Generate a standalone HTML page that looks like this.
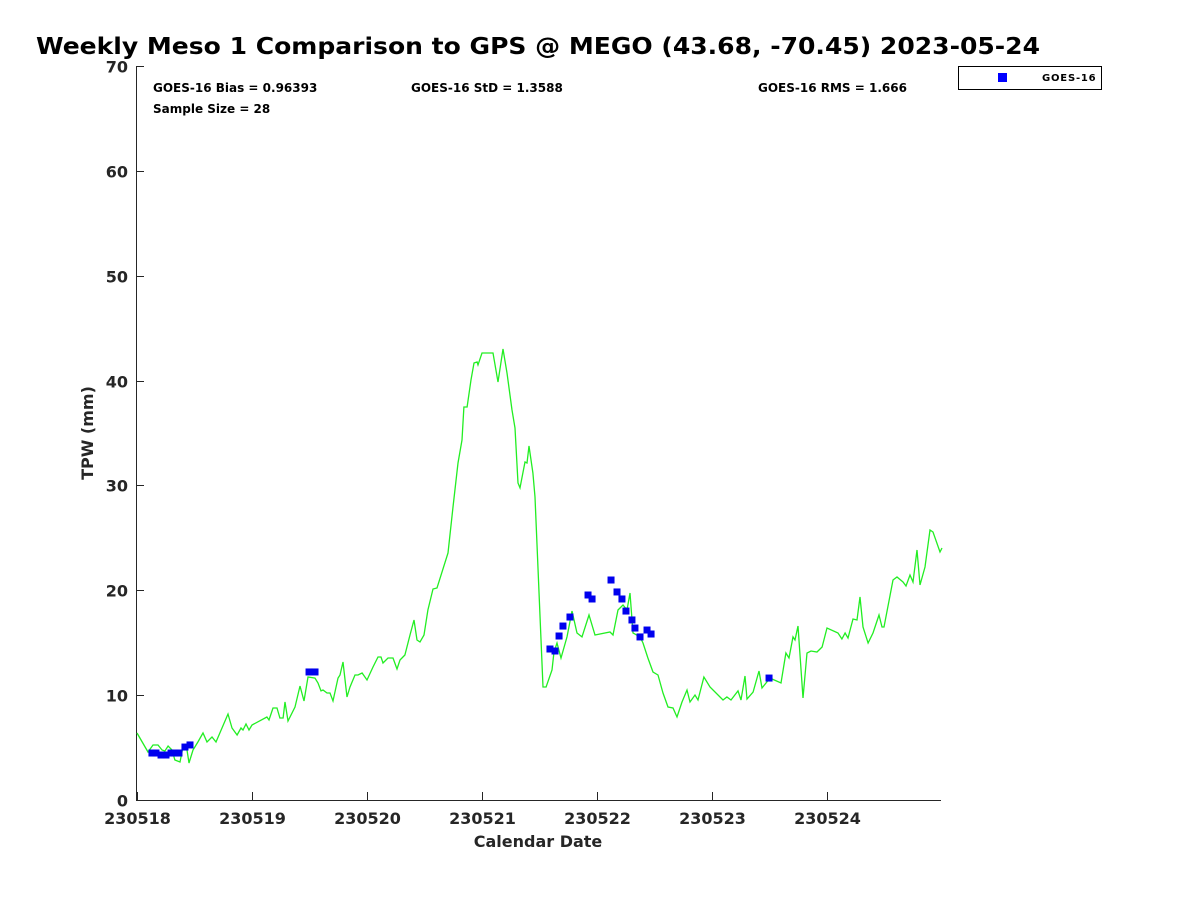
<!DOCTYPE html>
<html><head><meta charset="utf-8"><style>
body{margin:0;background:#fff;}
svg{display:block;font-family:"DejaVu Sans","Liberation Sans",sans-serif;}
</style></head><body>
<svg id="chart" width="1200" height="900">
<text x="36" y="54" font-size="23" font-weight="bold" fill="#000" textLength="1004" lengthAdjust="spacingAndGlyphs">Weekly Meso 1 Comparison to GPS @ MEGO (43.68, -70.45) 2023-05-24</text>
<text x="153" y="92" font-size="12" font-weight="bold">GOES-16 Bias = 0.96393</text>
<text x="411" y="92" font-size="12" font-weight="bold">GOES-16 StD = 1.3588</text>
<text x="758" y="92" font-size="12" font-weight="bold">GOES-16 RMS = 1.666</text>
<text x="153" y="113" font-size="12" font-weight="bold">Sample Size = 28</text>
<text x="93" y="433" font-size="16" font-weight="bold" fill="#262626" text-anchor="middle" transform="rotate(-90 93 433)">TPW (mm)</text>
<text x="538" y="847" font-size="16" font-weight="bold" fill="#262626" text-anchor="middle">Calendar Date</text>
<g>
<rect x="958.5" y="66.5" width="143" height="23" fill="#fff" stroke="#000"/>
<rect x="998" y="73" width="9" height="9" fill="#0000ff"/>
<text x="1042" y="81" font-size="10" font-weight="bold" letter-spacing="0.8">GOES-16</text>
</g>
<g id="axes"></g>
<g id="plot"></g>
</svg>
<script>
const xTickLabels=["230518","230519","230520","230521","230522","230523","230524"];
const yTickLabels=[0,10,20,30,40,50,60,70];
const gpsDays=[0,0.096,0.139,0.183,0.217,0.243,0.27,0.304,0.33,0.374,0.4,0.435,0.452,0.487,0.53,0.574,0.609,0.652,0.687,0.739,0.791,0.826,0.87,0.904,0.922,0.948,0.974,1.0,1.13,1.148,1.183,1.217,1.243,1.27,1.287,1.313,1.374,1.417,1.452,1.487,1.548,1.574,1.6,1.617,1.652,1.678,1.704,1.748,1.765,1.791,1.826,1.852,1.896,1.922,1.957,2.0,2.052,2.096,2.122,2.139,2.183,2.226,2.261,2.287,2.33,2.374,2.409,2.435,2.461,2.496,2.53,2.574,2.609,2.704,2.748,2.791,2.826,2.843,2.87,2.904,2.93,2.957,2.965,3.0,3.096,3.139,3.183,3.217,3.261,3.287,3.313,3.33,3.374,3.391,3.409,3.443,3.461,3.53,3.557,3.609,3.626,3.652,3.687,3.739,3.783,3.826,3.87,3.93,3.983,4.113,4.139,4.183,4.226,4.261,4.287,4.313,4.374,4.4,4.443,4.487,4.53,4.574,4.617,4.661,4.696,4.739,4.783,4.809,4.852,4.878,4.93,4.983,5.096,5.13,5.165,5.226,5.252,5.287,5.304,5.357,5.409,5.435,5.504,5.6,5.643,5.67,5.704,5.722,5.748,5.791,5.826,5.861,5.913,5.957,6.0,6.096,6.13,6.157,6.183,6.226,6.261,6.287,6.313,6.357,6.4,6.452,6.478,6.496,6.574,6.609,6.661,6.687,6.722,6.748,6.783,6.809,6.852,6.896,6.922,6.983,7.0];
const gpsTPW=[6.39,4.58,5.25,5.25,4.77,4.67,5.15,4.77,3.81,3.62,5.05,4.77,3.53,4.77,5.53,6.39,5.53,6.01,5.53,6.87,8.2,6.87,6.2,6.87,6.68,7.25,6.68,7.15,7.92,7.63,8.77,8.77,7.82,7.82,9.35,7.53,8.87,10.87,9.44,11.73,11.63,11.16,10.4,10.49,10.2,10.2,9.44,11.63,11.92,13.16,9.82,10.78,11.92,11.92,12.11,11.44,12.68,13.64,13.64,13.07,13.54,13.54,12.49,13.35,13.83,15.74,17.17,15.26,15.07,15.74,18.12,20.12,20.22,23.56,27.94,32.14,34.33,37.48,37.48,40.06,41.68,41.77,41.49,42.63,42.63,39.86,43.01,40.72,37.19,35.48,30.23,29.76,32.23,32.14,33.76,31.19,28.9,10.78,10.78,12.4,14.11,14.97,13.54,15.55,18.02,15.93,15.55,17.64,15.74,16.02,15.74,18.12,18.6,18.12,19.74,15.93,15.55,14.97,13.54,12.21,11.92,10.2,8.87,8.77,7.92,9.35,10.49,9.35,10.01,9.54,11.73,10.78,9.54,9.82,9.54,10.4,9.54,11.83,9.63,10.3,12.3,10.68,11.63,11.16,14.02,13.54,15.55,15.26,16.59,9.73,14.02,14.21,14.11,14.59,16.4,15.93,15.35,15.93,15.45,17.26,17.17,19.36,16.5,14.97,15.93,17.64,16.5,16.5,20.98,21.27,20.79,20.41,21.46,20.79,23.84,20.5,22.22,25.75,25.56,23.65,24.03];
const goesDays=[0.13,0.165,0.209,0.252,0.296,0.33,0.365,0.417,0.461,1.496,1.548,3.591,3.635,3.67,3.704,3.765,3.922,3.957,4.122,4.174,4.217,4.252,4.304,4.33,4.374,4.435,4.47,5.496];
const goesTPW=[4.48,4.48,4.29,4.29,4.48,4.48,4.48,5.05,5.25,12.21,12.21,14.4,14.21,15.64,16.59,17.45,19.55,19.17,20.98,19.84,19.17,18.02,17.17,16.4,15.55,16.21,15.83,11.63];

const NS='http://www.w3.org/2000/svg';
const X0=137,DAYW=115,Y0=800,YTOP=66,YMAX=70;
const xs=d=>X0+d*DAYW;
const ys=v=>Y0-v*(Y0-YTOP)/YMAX;
function mk(tag,attrs,parent){const e=document.createElementNS(NS,tag);for(const k in attrs)e.setAttribute(k,attrs[k]);parent.appendChild(e);return e;}
const axes=document.getElementById('axes'),plot=document.getElementById('plot');
let a=mk('line',{x1:136.5,y1:YTOP,x2:136.5,y2:800.5,stroke:'#262626'},axes);


a=mk('line',{x1:136,y1:800.5,x2:941,y2:800.5,stroke:'#262626'},axes);


yTickLabels.forEach(v=>{
  const y=Math.round(ys(v))+0.5;
  const t=mk('line',{x1:136,y1:y,x2:144,y2:y,stroke:'#262626'},axes);
  
  
  const l=mk('text',{x:128,y:y+6,'font-size':16,'font-weight':'bold',fill:'#262626','text-anchor':'end'},axes);
  l.textContent=v;
  
  
});
xTickLabels.forEach((s,i)=>{
  const x=Math.round(xs(i))+0.5;
  const t=mk('line',{x1:x,y1:792,x2:x,y2:800,stroke:'#262626'},axes);
  
  
  const l=mk('text',{x:x,y:824,'font-size':16,'font-weight':'bold',fill:'#262626','text-anchor':'middle'},axes);
  l.textContent=s;
  
  
});
const pts=gpsDays.map((d,i)=>xs(d).toFixed(1)+','+ys(gpsTPW[i]).toFixed(1)).join(' ');
const pl=mk('polyline',{points:pts,fill:'none',stroke:'#22ee22','stroke-width':1.3},plot);


goesDays.forEach((d,i)=>{
  const r=mk('rect',{x:xs(d)-3.5,y:ys(goesTPW[i])-3.5,width:7,height:7,fill:'#0000ee'},plot);
  
  
});
</script>
</body></html>
